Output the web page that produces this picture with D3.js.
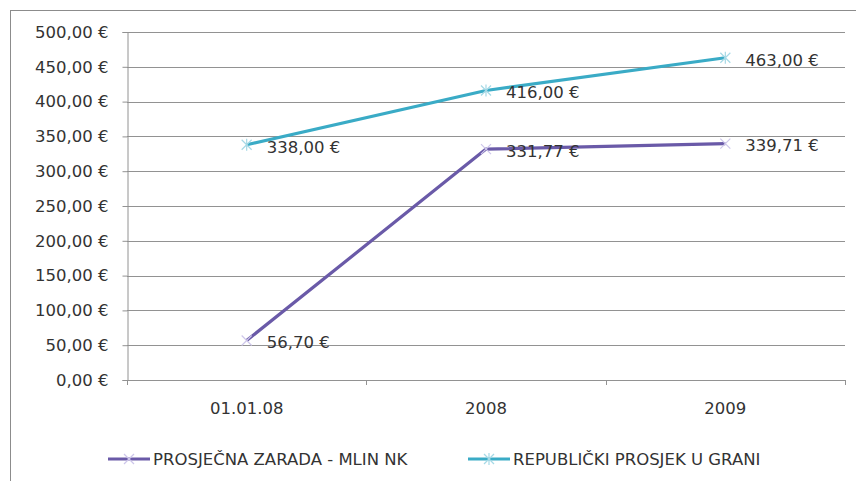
<!DOCTYPE html>
<html>
<head>
<meta charset="utf-8">
<script src="https://cdn.jsdelivr.net/npm/d3@7"></script>
<style>
  body { margin: 0; background: #fff; }
  text { font-family: "DejaVu Sans", sans-serif; fill: #333; }
</style>
</head>
<body>
<div id="chart"></div>
<script>
const categories = ["01.01.08", "2008", "2009"];
const seriesNames = ["PROSJEČNA ZARADA - MLIN NK", "REPUBLIČKI PROSJEK U GRANI"];
const zarada = [56.70, 331.77, 339.71];
const republika = [338.00, 416.00, 463.00];
const yTicks = [0, 50, 100, 150, 200, 250, 300, 350, 400, 450, 500];

const W = 856, H = 481;
const PLOT = {left: 127, right: 845, top: 32, bottom: 380};
const COLORS = ["#6a5aa8", "#3aabc6"];
const MARKER = ["#cdc6ea", "#a6d9e6"];
const FONT = "16.5px";

const euro = v => d3.format(",.2f")(v).replace(/,/g, " ").replace(".", ",") + " €";

const svg = d3.select("#chart").append("svg")
    .attr("width", W).attr("height", H);

// chart frame
svg.append("rect")
    .attr("x", 10.5).attr("y", 10.5)
    .attr("width", W + 10).attr("height", H + 10)
    .attr("fill", "none").attr("stroke", "#8c8c8c");

const x = d3.scaleBand().domain(categories).range([PLOT.left, PLOT.right]);
const y = d3.scaleLinear().domain([0, 500]).range([PLOT.bottom, PLOT.top]);

// gridlines
svg.append("g").selectAll("line")
    .data(yTicks)
    .enter().append("line")
    .attr("x1", PLOT.left).attr("x2", PLOT.right)
    .attr("y1", d => Math.round(y(d)) + 0.5).attr("y2", d => Math.round(y(d)) + 0.5)
    .attr("stroke", "#929292");

// y axis
const yAxis = svg.append("g")
    .attr("transform", `translate(${PLOT.left + 0.5},0)`)
    .call(d3.axisLeft(y).tickValues(yTicks).tickFormat(euro).tickSize(5).tickPadding(14));
yAxis.select(".domain").attr("stroke", "#929292");
yAxis.selectAll(".tick line").attr("stroke", "#929292");
yAxis.selectAll("text").style("font-size", FONT).style("font-family", "DejaVu Sans").attr("fill", "#333");

// x axis with ticks at category boundaries
const xAxis = svg.append("g")
    .attr("transform", `translate(0,${Math.round(y(0)) + 0.5})`)
    .call(d3.axisBottom(x).tickSize(0).tickPadding(22));
xAxis.select(".domain").remove();
xAxis.selectAll("text").style("font-size", FONT).style("font-family", "DejaVu Sans").attr("fill", "#333");
svg.append("g").selectAll("line")
    .data(categories.concat(["end"]))
    .enter().append("line")
    .attr("x1", (d, i) => Math.round(PLOT.left + i * x.bandwidth()) + 0.5)
    .attr("x2", (d, i) => Math.round(PLOT.left + i * x.bandwidth()) + 0.5)
    .attr("y1", y(0)).attr("y2", y(0) + 5)
    .attr("stroke", "#929292");

const series = [zarada, republika];
const line = d3.line()
    .x((d, i) => x(categories[i]) + x.bandwidth() / 2)
    .y(d => y(d));

series.forEach((vals, s) => {
    svg.append("path")
        .datum(vals)
        .attr("d", line)
        .attr("fill", "none")
        .attr("stroke", COLORS[s])
        .attr("stroke-width", 3.2)
        .attr("stroke-linejoin", "round");

    // faint markers
    vals.forEach((v, i) => {
        const cx = x(categories[i]) + x.bandwidth() / 2, cy = y(v);
        const m = svg.append("g").attr("stroke", MARKER[s]).attr("stroke-width", 1.2);
        m.append("line").attr("x1", cx - 5).attr("y1", cy - 5).attr("x2", cx + 5).attr("y2", cy + 5);
        m.append("line").attr("x1", cx - 5).attr("y1", cy + 5).attr("x2", cx + 5).attr("y2", cy - 5);
        if (s === 1) m.append("line").attr("x1", cx).attr("y1", cy - 6).attr("x2", cx).attr("y2", cy + 6);
    });

    // data labels
    svg.append("g").selectAll("text")
        .data(vals)
        .enter().append("text")
        .attr("x", (d, i) => x(categories[i]) + x.bandwidth() / 2 + 20)
        .attr("y", d => y(d) + 2)
        .attr("dy", "0.35em")
        .style("font-size", FONT)
        .text(d => euro(d));
});

// legend
const legendX = [108, 468];
seriesNames.forEach((name, s) => {
    const g = svg.append("g").attr("transform", `translate(${legendX[s]},459)`);
    g.append("line").attr("x1", 0).attr("x2", 42).attr("y1", 0).attr("y2", 0)
        .attr("stroke", COLORS[s]).attr("stroke-width", 3.2);
    const m = g.append("g").attr("stroke", MARKER[s]).attr("stroke-width", 1.2);
    m.append("line").attr("x1", 16).attr("y1", -5).attr("x2", 26).attr("y2", 5);
    m.append("line").attr("x1", 16).attr("y1", 5).attr("x2", 26).attr("y2", -5);
    if (s === 1) m.append("line").attr("x1", 21).attr("y1", -6).attr("x2", 21).attr("y2", 6);
    g.append("text").attr("x", 45).attr("y", 0).attr("dy", "0.35em")
        .style("font-size", FONT).text(name);
});
</script>
</body>
</html>
